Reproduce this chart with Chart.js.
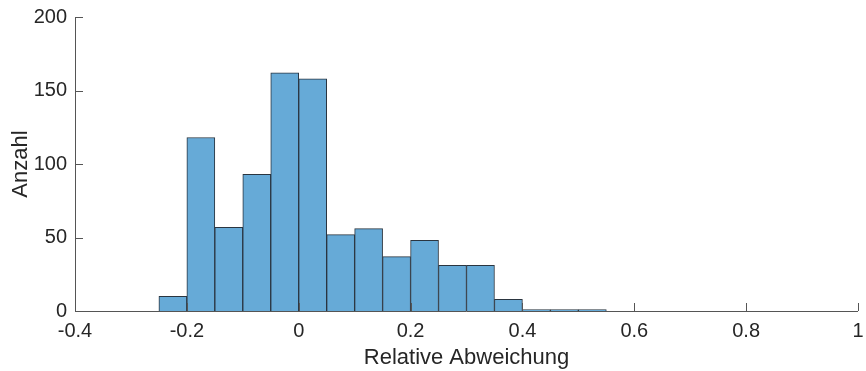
<!DOCTYPE html>
<html>
<head>
<meta charset="utf-8">
<script src="https://cdn.jsdelivr.net/npm/chart.js@4"></script>
<style>
  html, body { margin: 0; padding: 0; background: #fff; }
  #wrap { width: 866px; height: 371px; }
</style>
</head>
<body>
<div id="wrap"><canvas id="grafica" width="866" height="371"></canvas></div>
<script>
// ===============================
// DATOS
// ===============================
const binStart = [-0.25, -0.2, -0.15, -0.1, -0.05, 0, 0.05, 0.1, 0.15, 0.2, 0.25, 0.3, 0.35, 0.4, 0.45, 0.5];
const binWidth = 0.05;
const counts = [10, 118, 57, 93, 162, 158, 52, 56, 37, 48, 31, 31, 8, 1, 1, 1];
const xTicks = [-0.4, -0.2, 0, 0.2, 0.4, 0.6, 0.8, 1];
const yTicks = [0, 50, 100, 150, 200];

const fuente = "'Liberation Sans', Arial, sans-serif";
const colorTexto = "#262626";

// marcas de eje hacia dentro (estilo MATLAB)
const marcasDentro = {
  id: "marcasDentro",
  afterDatasetsDraw(chart) {
    const ctx = chart.ctx;
    const x = chart.scales.x, y = chart.scales.y;
    const area = chart.chartArea;
    ctx.save();
    ctx.strokeStyle = "#555555";
    ctx.lineWidth = 1;
    ctx.beginPath();
    x.ticks.forEach(t => {
      const px = Math.round(x.getPixelForValue(t.value)) + 0.5;
      ctx.moveTo(px, area.bottom);
      ctx.lineTo(px, area.bottom - 8);
    });
    y.ticks.forEach(t => {
      const py = Math.round(y.getPixelForValue(t.value)) + 0.5;
      ctx.moveTo(area.left, py);
      ctx.lineTo(area.left + 8, py);
    });
    ctx.stroke();
    // ejes
    ctx.beginPath();
    ctx.moveTo(Math.round(area.left) + 0.5, area.top);
    ctx.lineTo(Math.round(area.left) + 0.5, Math.round(area.bottom) + 0.5);
    ctx.lineTo(area.right, Math.round(area.bottom) + 0.5);
    ctx.stroke();
    ctx.restore();
  }
};

const ctx = document.getElementById("grafica").getContext("2d");

new Chart(ctx, {
  type: "bar",
  data: {
    datasets: [{
      data: binStart.map((b, i) => ({ x: b + binWidth / 2, y: counts[i] })),
      backgroundColor: "rgb(102,170,215)",
      borderColor: "#2a3540",
      borderWidth: 1,
      barPercentage: 1,
      categoryPercentage: 1,
      grouped: false
    }]
  },
  options: {
    responsive: false,
    animation: false,
    layout: { padding: { top: 17, right: 8, left: 8, bottom: 0 } },
    plugins: { legend: { display: false }, tooltip: { enabled: false } },
    scales: {
      x: {
        type: "linear",
        min: -0.4,
        max: 1,
        offset: false,
        afterBuildTicks: s => { s.ticks = xTicks.map(v => ({ value: v })); },
        afterFit: s => {
          s.height = 60;
          s.paddingLeft = 0;
          s.paddingRight = 0;
        },
        ticks: {
          color: colorTexto,
          font: { family: fuente, size: 20 },
          padding: 8,
          maxRotation: 0,
          callback: v => String(v)
        },
        grid: { display: false, drawTicks: false },
        border: { display: false },
        title: {
          display: true,
          text: "Relative Abweichung",
          color: colorTexto,
          font: { family: fuente, size: 22 },
          padding: { top: 0, bottom: 0 }
        }
      },
      y: {
        min: 0,
        max: 200,
        afterBuildTicks: s => { s.ticks = yTicks.map(v => ({ value: v })); },
        afterFit: s => {
          s.width = 67;
          s.paddingTop = 0;
          s.paddingBottom = 0;
        },
        ticks: {
          color: colorTexto,
          font: { family: fuente, size: 20 },
          padding: 8
        },
        grid: { display: false, drawTicks: false },
        border: { display: false },
        title: {
          display: true,
          text: "Anzahl",
          color: colorTexto,
          font: { family: fuente, size: 22 },
          padding: { top: 0, bottom: 0 }
        }
      }
    }
  },
  plugins: [marcasDentro]
});
</script>
</body>
</html>
